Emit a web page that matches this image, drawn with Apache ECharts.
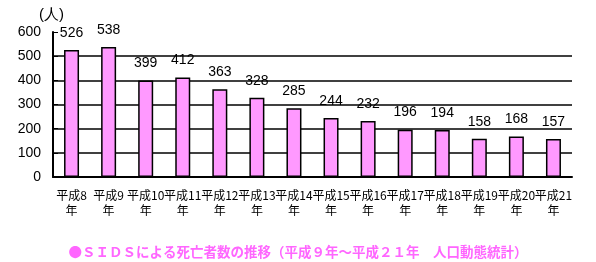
<!DOCTYPE html>
<html><head><meta charset="utf-8">
<script src="https://cdn.jsdelivr.net/npm/echarts@6/dist/echarts.min.js"></script>
<style>html,body{margin:0;padding:0;background:#fff}#c{width:596px;height:262px}</style>
</head><body><div id="c"></div>
<script>
const categories = ['平成8\n年','平成9\n年','平成10\n年','平成11\n年','平成12\n年','平成13\n年','平成14\n年','平成15\n年','平成16\n年','平成17\n年','平成18\n年','平成19\n年','平成20\n年','平成21\n年'];
const deaths = [526,538,399,412,363,328,285,244,232,196,194,158,168,157];
const yTicks = [0,100,200,300,400,500,600];
const titleText = '●ＳＩＤＳによる死亡者数の推移（平成９年～平成２１年　人口動態統計）';
const unitText = '(人)';

const ff = "'Liberation Sans','Noto Sans CJK JP',sans-serif";
const chart = echarts.init(document.getElementById('c'));
chart.setOption({
  animation: false,
  backgroundColor: '#fff',
  title: {
    text: titleText, left: 'center', top: 240,
    textStyle: {color: '#FF66FF', fontSize: 13.5, fontWeight: 'bold', fontFamily: "'Noto Sans CJK JP',sans-serif"}
  },
  grid: {left: 53, right: 24, top: 32, bottom: 85},
  xAxis: {
    type: 'category', data: categories,
    axisLine: {lineStyle: {color: '#000', width: 2}},
    axisTick: {inside: true, length: 4, lineStyle: {color: '#000'}},
    axisLabel: {color: '#000', fontSize: 12, lineHeight: 15, margin: 11, fontFamily: "'Noto Sans CJK JP',sans-serif", interval: 0}
  },
  yAxis: {
    type: 'value', min: yTicks[0], max: yTicks[yTicks.length-1], interval: 100,
    name: unitText, nameLocation: 'end', nameGap: 10,
    nameTextStyle: {color: '#000', fontSize: 15, fontFamily: "'Liberation Sans',sans-serif", align: 'left', padding: [0,0,0,-14]},
    axisLine: {show: true, lineStyle: {color: '#000', width: 2}},
    axisTick: {show: true, inside: true, length: 5, lineStyle: {color: '#000'}},
    axisLabel: {color: '#000', fontSize: 14, margin: 12, fontFamily: ff},
    splitLine: {show: true, lineStyle: {color: ['#000','#000','#000','#000','#000','#000','rgba(0,0,0,0)'], width: 1.5}}
  },
  series: [{
    type: 'bar', data: deaths, barWidth: 15,
    itemStyle: {color: '#FF99FF', borderColor: '#000', borderWidth: 1.5},
    label: {show: true, position: 'top', distance: 10, color: '#000', fontSize: 14, fontFamily: ff}
  }]
});
</script></body></html>
